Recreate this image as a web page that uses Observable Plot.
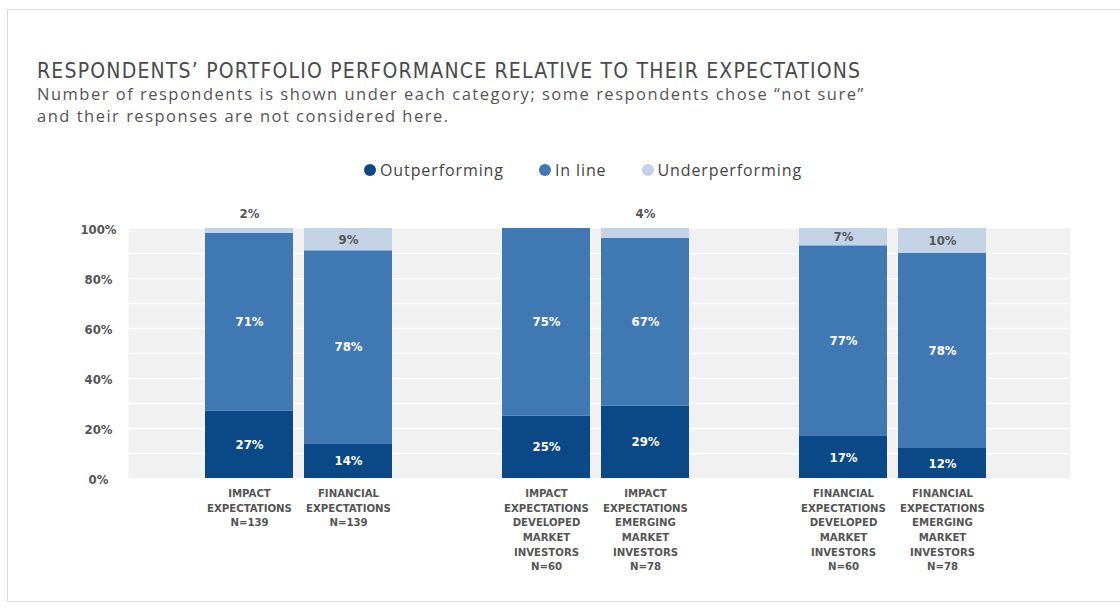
<!DOCTYPE html>
<html>
<head>
<meta charset="utf-8">
<script src="https://cdn.jsdelivr.net/npm/d3@7"></script>
<script src="https://cdn.jsdelivr.net/npm/@observablehq/plot@0.6"></script>
<style>
  html, body { margin: 0; padding: 0; background: #fff; }
  #page { position: relative; width: 1120px; height: 608px; overflow: hidden; background: #fff; }
  #border { position: absolute; left: 7px; top: 9px; width: 1130px; height: 593px; border: 1px solid #dcdcdc; box-sizing: border-box; }
  #title { position: absolute; left: 37px; top: 61px; font-family: "DejaVu Sans Condensed", "DejaVu Sans"; font-stretch: condensed; font-size: 21px; line-height: 20px; letter-spacing: 1.2px; color: #4a4a4a; white-space: nowrap; }
  #subtitle { position: absolute; left: 37px; top: 83px; font-family: "Open Sans"; font-size: 16.5px; line-height: 21.5px; color: #555; letter-spacing: 1.5px; white-space: nowrap; }
  #legend { position: absolute; left: 364px; top: 159px; display: flex; align-items: center; font-family: "Open Sans"; font-size: 16px; line-height: 22px; color: #444; letter-spacing: 0.9px; }
  .item { display: flex; align-items: center; margin-right: 35px; }
  .sw { width: 12px; height: 12px; border-radius: 50%; margin-right: 4px; }
  #chart { position: absolute; left: 0; top: 190px; }
</style>
</head>
<body>
<div id="page">
  <div id="border"></div>
  <div id="title">RESPONDENTS’ PORTFOLIO PERFORMANCE RELATIVE TO THEIR EXPECTATIONS</div>
  <div id="subtitle">Number of respondents is shown under each category; some respondents chose “not sure”<br>and their responses are not considered here.</div>
  <div id="legend"></div>
  <div id="chart"></div>
</div>
<script>
// ---- data ----
const categories = ["impact", "financial", "impactDev", "impactEm", "financialDev", "financialEm"];
const categoryLabels = [
  "IMPACT\nEXPECTATIONS\nN=139",
  "FINANCIAL\nEXPECTATIONS\nN=139",
  "IMPACT\nEXPECTATIONS\nDEVELOPED\nMARKET\nINVESTORS\nN=60",
  "IMPACT\nEXPECTATIONS\nEMERGING\nMARKET\nINVESTORS\nN=78",
  "FINANCIAL\nEXPECTATIONS\nDEVELOPED\nMARKET\nINVESTORS\nN=60",
  "FINANCIAL\nEXPECTATIONS\nEMERGING\nMARKET\nINVESTORS\nN=78"
];
const slots = ["impact", "financial", "gap1", "impactDev", "impactEm", "gap2", "financialDev", "financialEm"];
const seriesNames = ["Outperforming", "In line", "Underperforming"];
const seriesColors = ["#0b4887", "#3f78b3", "#c4d2e6"];
const outperforming = [27, 14, 25, 29, 17, 12];
const inLine = [71, 78, 75, 67, 77, 78];
const underperforming = [2, 9, 0, 4, 7, 10];
const yTicks = [0, 0.2, 0.4, 0.6, 0.8, 1];
const gridTicks = [0.1, 0.2, 0.3, 0.4, 0.5, 0.6, 0.7, 0.8, 0.9];

// ---- table ----
const valuesBySeries = [outperforming, inLine, underperforming];
const rows = [];
categories.forEach((c, i) => {
  seriesNames.forEach((s, j) => rows.push({cat: c, series: s, value: valuesBySeries[j][i]}));
});
const labelOf = new Map(categories.map((c, i) => [c, categoryLabels[i]]));

// ---- legend ----
const legend = document.getElementById("legend");
seriesNames.forEach((s, j) => {
  const it = document.createElement("div");
  it.className = "item";
  it.innerHTML = `<span class="sw" style="background:${seriesColors[j]}"></span><span>${s}</span>`;
  legend.appendChild(it);
});

const stackOpts = {x: "cat", y: "value", z: "series", order: seriesNames, offset: "normalize"};
const labelFont = {fontFamily: "DejaVu Sans Condensed, DejaVu Sans", fontWeight: "bold", fontSize: 13};

const chart = Plot.plot({
  width: 1120,
  height: 410,
  marginLeft: 128,
  marginRight: 50,
  marginTop: 38,
  marginBottom: 122,
  style: {background: "transparent", overflow: "visible"},
  x: {type: "band", domain: slots, paddingInner: 0.108, paddingOuter: 0.774, align: 0.478, label: null},
  y: {domain: [0, 1], label: null},
  color: {domain: seriesNames, range: seriesColors},
  marks: [
    Plot.frame({fill: "#f1f1f1", stroke: null}),
    Plot.gridY(gridTicks, {stroke: "#ffffff", strokeOpacity: 1, strokeWidth: 1.5}),
    Plot.barY(rows, Plot.stackY({...stackOpts, fill: "series"})),
    Plot.text(rows, Plot.stackY({...stackOpts, text: d => d.series !== "Underperforming" ? d.value + "%" : "", fill: "white", ...labelFont})),
    Plot.text(rows, Plot.stackY({...stackOpts, text: d => d.series === "Underperforming" && d.value >= 5 ? d.value + "%" : "", fill: "#555", ...labelFont})),
    Plot.text(rows, Plot.stackY2({...stackOpts, text: d => d.series === "Underperforming" && d.value > 0 && d.value < 5 ? d.value + "%" : "", fill: "#555", dy: -15, ...labelFont})),
    Plot.axisY(yTicks, {tickFormat: d3.format(".0%"), tickSize: 0, tickPadding: 30, textAnchor: "middle", dy: 1, fill: "#555", ...labelFont, label: null}),
    Plot.axisX({tickSize: 0, tickPadding: 8, tickFormat: k => labelOf.get(k) || "", lineHeight: 1.3, fontSize: 11.3, fontWeight: "bold", fontFamily: "DejaVu Sans Condensed, DejaVu Sans", fill: "#555", label: null})
  ]
});
document.getElementById("chart").appendChild(chart);
</script>
</body>
</html>
